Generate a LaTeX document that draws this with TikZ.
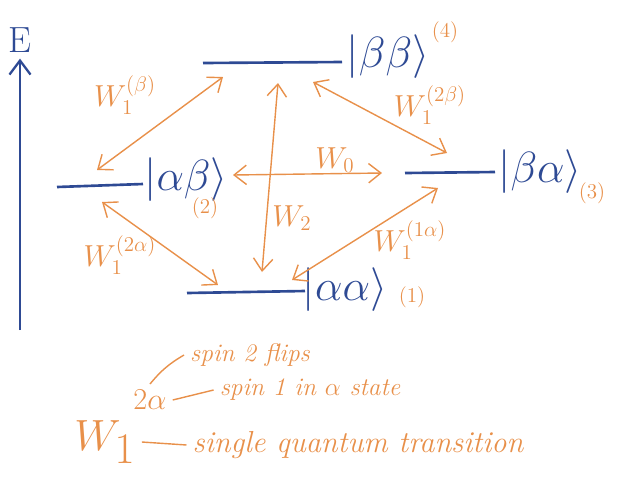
\documentclass[tikz,border=0pt]{standalone}
\usepackage{amsmath}
\usetikzlibrary{arrows.meta}
\definecolor{inkblue}{HTML}{2E4A94}
\definecolor{inkorange}{HTML}{E8904A}
\begin{document}
\begin{tikzpicture}[x=0.02cm,y=-0.02cm]
    \tikzset{
        level/.style={draw=inkblue, line width=1.5pt},
        ket/.style={text=inkblue, font=\Huge},
        tag/.style={text=inkorange, font=\large},
        wlabel/.style={text=inkorange, font=\LARGE},
        note/.style={text=inkorange, font=\Large\itshape},
        trans/.style={draw=inkorange, line width=0.8pt, {Straight Barb[length=7pt,width=11pt]}-{Straight Barb[length=7pt,width=11pt]}},
        axis/.style={draw=inkblue, line width=1.3pt, -{Straight Barb[length=8pt,width=12pt]}}
    }
    \useasboundingbox (0,0) rectangle (629,495);

    % energy axis
    \draw node[text=inkblue, font=\huge] (E) at (20,40) {E};
    \coordinate (e0) at (20,330);
    \draw[axis] (e0) -- (E.south);

    % energy levels
    \coordinate (l4a) at (203,63); \coordinate (l4b) at (342,62);
    \coordinate (l2a) at (57,187); \coordinate (l2b) at (143,184);
    \coordinate (l3a) at (405,173); \coordinate (l3b) at (495,172);
    \coordinate (l1a) at (187,293); \coordinate (l1b) at (305,291);
    \foreach \x/\y in {l4a/l4b, l2a/l2b, l3a/l3b, l1a/l1b}{
        \draw[level] (\x) -- (\y);
    }
    \draw node[ket] (k4) at (388,57) {$|\beta\beta\rangle$};
    \draw node[ket] (k2) at (186,180) {$|\alpha\beta\rangle$};
    \draw node[ket] (k3) at (540,172) {$|\beta\alpha\rangle$};
    \draw node[ket] (k1) at (345,290) {$|\alpha\alpha\rangle$};
    \draw node[tag] (n4) at (445,32) {(4)};
    \draw node[tag] (n2) at (205,208) {(2)};
    \draw node[tag] (n3) at (592,193) {(3)};
    \draw node[tag] (n1) at (412,297) {(1)};

    % transitions
    \coordinate (b1) at (97,170);  \coordinate (b2) at (223,77);
    \coordinate (c1) at (313,82);  \coordinate (c2) at (447,153);
    \coordinate (d1) at (233,175); \coordinate (d2) at (382,173);
    \coordinate (f1) at (292,280); \coordinate (f2) at (438,188);
    \coordinate (g1) at (102,202); \coordinate (g2) at (218,285);
    \coordinate (h1) at (262,272); \coordinate (h2) at (278,83);
    \foreach \x/\y in {b1/b2, c1/c2, d1/d2, f1/f2, g1/g2, h1/h2}{
        \draw (\x) edge[trans] (\y);
    }
    \draw node[wlabel] (wb) at (125,95) {$W_1^{(\beta)}$};
    \draw node[wlabel] (w2b) at (430,105) {$W_1^{(2\beta)}$};
    \draw node[wlabel] (w0) at (335,160) {$W_0$};
    \draw node[wlabel] (w2) at (292,218) {$W_2$};
    \draw node[wlabel] (w2a) at (120,255) {$W_1^{(2\alpha)}$};
    \draw node[wlabel] (w1a) at (410,240) {$W_1^{(1\alpha)}$};

    % legend
    \draw node[text=inkorange, font=\fontsize{42}{46}\selectfont] (wbig) at (105,442) {$W_1$};
    \draw node[text=inkorange, font=\LARGE] (sup) at (150,400) {$2\alpha$};
    \draw node[note] (flip) at (250,355) {spin 2 flips};
    \draw node[note] (state) at (310,390) {spin 1 in $\alpha$ state};
    \draw node[note, font=\LARGE\itshape] (sqt) at (358,445) {single quantum transition};
    \draw[inkorange, line width=0.8pt] (sup.north) to[bend left=10] (flip.west);
    \draw[inkorange, line width=0.8pt] (sup.east) -- (state.west);
    \draw[inkorange, line width=0.8pt] (wbig.east) -- (sqt.west);
\end{tikzpicture}
\end{document}
